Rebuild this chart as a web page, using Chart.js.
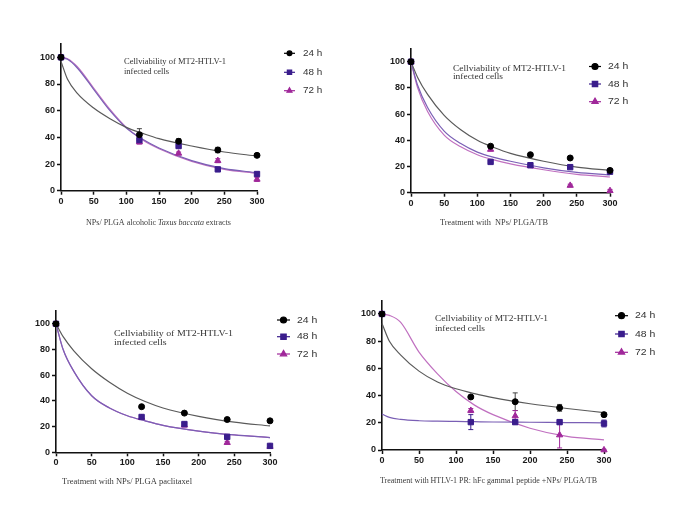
<!DOCTYPE html>
<html><head><meta charset="utf-8">
<script src="https://cdn.jsdelivr.net/npm/chart.js@4.4.1/dist/chart.umd.min.js"></script>
<style>
html,body{margin:0;padding:0;background:#fff;width:685px;height:509px;overflow:hidden;}
canvas{position:absolute;}
</style></head><body>
<canvas id="c1" width="342" height="254" style="left:0;top:0"></canvas>
<canvas id="c2" width="343" height="254" style="left:342px;top:0"></canvas>
<canvas id="c3" width="342" height="255" style="left:0;top:254px"></canvas>
<canvas id="c4" width="343" height="255" style="left:342px;top:254px"></canvas>
<script>
// ---------------- DATA ----------------
const X_TICK_VALUES = [0, 50, 100, 150, 200, 250, 300];
const X_TICK_LABELS = ['0', '50', '100', '150', '200', '250', '300'];
const Y_TICK_VALUES = [0, 20, 40, 60, 80, 100];
const Y_TICK_LABELS = ['0', '20', '40', '60', '80', '100'];
const SERIES_NAMES = ['24 h', '48 h', '72 h'];
const DOSES = [0, 120, 180, 240, 300];
const FIT_X = [0, 10, 25, 50, 75, 100, 125, 150, 200, 250, 300];
const PANEL_TITLE = ['Cellviability of MT2-HTLV-1', 'infected cells'];

// Panel A: NPs/ PLGA alcoholic Taxus baccata extracts
const A_24 = [100, 42, 37, 30.5, 26.5];
const A_48 = [100, 38, 33.5, 16, 12.5];
const A_72 = [100, 36.5, 28, 22.5, 8.5];
const A_24_ERR = [0, 4.5, 2, 2, 1];
const A_48_ERR = [0, 2.5, 1.5, 1, 1.5];
const A_72_ERR = [0, 1.5, 1, 1.5, 1.5];
const A_FIT_24 = [97, 83.5, 73, 62, 54, 47.5, 43, 39, 33.5, 29, 26];
const A_FIT_48 = [100, 98.5, 92, 76, 60, 47, 38.5, 32, 22.5, 16.5, 13.5];
const A_FIT_72 = [100, 99, 93, 77, 61, 47.5, 38, 31.5, 22, 16, 13];
const A_XTITLE = [['NPs/ PLGA alcoholic ', false], ['Taxus baccata', true], [' extracts', false]];

// Panel B: Treatment with NPs/ PLGA/TB
const B_24 = [100, 35.5, 29, 26.5, 17];
const B_48 = [100, 23.5, 21, 19.5, 16];
const B_72 = [100, 33, 20.5, 5.5, 1.5];
const B_24_ERR = [0, 1, 1, 1, 1];
const B_48_ERR = [0, 1, 1, 1, 1];
const B_72_ERR = [0, 1, 1, 1, 1];
const B_FIT_24 = [100, 88, 75, 59, 48, 40, 34.5, 30, 24, 19.5, 17];
const B_FIT_48 = [100, 82, 65, 47, 37.5, 31, 27, 24, 19, 15.5, 13.5];
const B_FIT_72 = [100, 80, 62, 44, 35, 29, 25, 22, 17.5, 14, 12];
const B_XTITLE = [['Treatment with  NPs/ PLGA/TB', false]];

// Panel C: Treatment with NPs/ PLGA paclitaxel
const C_24 = [100, 35.5, 30.5, 25.5, 24.5];
const C_48 = [100, 27.5, 22, 12, 5];
const C_72 = [100, 27, 21, 7.5, 4.5];
const C_24_ERR = [0, 1, 1, 1, 1];
const C_48_ERR = [0, 1, 1, 1, 1];
const C_72_ERR = [0, 1, 1, 1, 1];
const C_FIT_24 = [100, 90, 79, 65, 54.5, 46, 39.5, 34.5, 28, 23.5, 20.5];
const C_FIT_48 = [100, 80, 63, 44, 34.5, 28.5, 24.5, 21, 16.5, 13.5, 11.5];
const C_FIT_72 = [100, 80, 63, 44, 34.5, 28.5, 24.5, 21, 16.5, 13.5, 11.5];
const C_XTITLE = [['Treatment with NPs/ PLGA paclitaxel', false]];

// Panel D: Treatment with HTLV-1 PR: hFc gamma1 peptide +NPs/ PLGA/TB
const D_24 = [100, 39, 35.5, 31, 26];
const D_48 = [100, 20.5, 20.5, 20.5, 19.5];
const D_72 = [100, 29, 25, 11, 0];
const D_24_ERR = [0, 1, 6.5, 2.5, 1.5];
const D_48_ERR = [0, 5.5, 1.5, 1.5, 2.5];
const D_72_ERR = [0, 1.5, 4, 9.5, 0.5];
const D_FIT_24 = [93, 80, 70, 58, 50, 45, 41.5, 38.5, 34, 30.5, 27.5];
const D_FIT_48 = [26.5, 24, 22.5, 21.5, 21.2, 21, 20.8, 20.6, 20.4, 20.2, 20];
const D_FIT_72 = [100, 99, 94, 72, 56, 43, 33, 26, 16, 10, 7.5];
const D_XTITLE = [['Treatment with HTLV-1 PR: hFc gamma1 peptide +NPs/ PLGA/TB', false]];

// ---------------- STYLE ----------------
const MARK_COLORS = ['#000000', '#3a1d8c', '#a0289a'];
const LINE_COLORS = ['#5a5a5a', '#7a5fb5', '#c070c0'];
const MARK_STYLES = ['circle', 'rect', 'triangle'];
const MARK_RADII = [3.0, 3.8, 3.6];
const SANS = '"Liberation Sans", Arial, sans-serif';
const SERIF = '"Liberation Serif", "Times New Roman", serif';

const Y_AXIS_W = 30, X_AXIS_H = 20;

function xy(xs, ys) { return xs.map((x, i) => ({x: x, y: ys[i]})); }

const errorBars = {
  id: 'errorBars',
  beforeDatasetsDraw(chart) {
    const ctx = chart.ctx, ys = chart.scales.y, xs = chart.scales.x;
    chart.data.datasets.forEach(ds => {
      if (!ds.errors) return;
      ctx.save();
      ctx.strokeStyle = ds.errColor; ctx.lineWidth = 1;
      ds.data.forEach((p, i) => {
        const e = ds.errors[i];
        if (!e) return;
        const px = xs.getPixelForValue(p.x);
        const y1 = ys.getPixelForValue(p.y + e), y2 = ys.getPixelForValue(p.y - e);
        ctx.beginPath();
        ctx.moveTo(px, y1); ctx.lineTo(px, y2);
        ctx.moveTo(px - 2.5, y1); ctx.lineTo(px + 2.5, y1);
        ctx.moveTo(px - 2.5, y2); ctx.lineTo(px + 2.5, y2);
        ctx.stroke();
      });
      ctx.restore();
    });
  }
};

function segsWidth(ctx, segs, family, size) {
  let w = 0;
  segs.forEach(s => { ctx.font = (s[1] ? 'italic ' : '') + size + 'px ' + family; w += ctx.measureText(s[0]).width; });
  return w;
}
// draw text at a given font size, stretched horizontally to the target width
function drawSegs(ctx, segs, family, size, x, y, targetW, color) {
  const w = segsWidth(ctx, segs, family, size);
  const sx = targetW ? targetW / w : 1;
  ctx.save();
  ctx.translate(x, y); ctx.scale(sx, 1);
  ctx.fillStyle = color; ctx.textBaseline = 'middle'; ctx.textAlign = 'left';
  let cx = 0;
  segs.forEach(s => {
    ctx.font = (s[1] ? 'italic ' : '') + size + 'px ' + family;
    ctx.fillText(s[0], cx, 0);
    cx += ctx.measureText(s[0]).width;
  });
  ctx.restore();
}

const panelText = {
  id: 'panelText',
  afterDraw(chart, args, o) {
    const ctx = chart.ctx;
    const ox = o.ox, oy = o.oy;
    ctx.save();
    const t0 = [[PANEL_TITLE[0], false]], t1 = [[PANEL_TITLE[1], false]];
    const tw = segsWidth(ctx, t0, SERIF, o.titleSize);
    const tsx = o.titleW / tw;
    drawSegs(ctx, t0, SERIF, o.titleSize, o.titleX - ox, o.titleY[0] - oy, o.titleW, '#333');
    drawSegs(ctx, t1, SERIF, o.titleSize, o.titleX - ox, o.titleY[1] - oy,
             segsWidth(ctx, t1, SERIF, o.titleSize) * tsx, '#333');
    drawSegs(ctx, o.xTitle, SERIF, 7.5, o.xTitleX - ox, o.xTitleY - oy, o.xTitleW, '#3a3a3a');
    for (let i = 0; i < 3; i++) {
      const y = o.legY[i] - oy;
      ctx.strokeStyle = MARK_COLORS[i]; ctx.lineWidth = 1.2;
      ctx.beginPath(); ctx.moveTo(o.legX1 - ox, y); ctx.lineTo(o.legX2 - ox, y); ctx.stroke();
      ctx.fillStyle = MARK_COLORS[i]; ctx.strokeStyle = MARK_COLORS[i];
      Chart.helpers.drawPoint(ctx, {pointStyle: MARK_STYLES[i], radius: MARK_RADII[i] * o.legMark, borderWidth: 1},
                              (o.legX1 + o.legX2) / 2 - ox, y);
      const nm = [[SERIES_NAMES[i], false]];
      drawSegs(ctx, nm, SANS, o.legFont, o.legTX - ox, y, segsWidth(ctx, nm, SANS, o.legFont) * 1.1, '#333');
    }
    ctx.restore();
  }
};

function makePanel(id, canvasRect, area, pts, errs, fits, text) {
  const datasets = [];
  for (let i = 0; i < 3; i++) {
    datasets.push({
      type: 'line', data: xy(FIT_X, fits[i]), borderColor: LINE_COLORS[i], borderWidth: 1.2,
      pointRadius: 0, cubicInterpolationMode: 'monotone', fill: false, clip: false, order: 5
    });
  }
  for (let i = 0; i < 3; i++) {
    datasets.push({
      type: 'scatter', data: xy(DOSES, pts[i]), showLine: false,
      pointStyle: MARK_STYLES[i], pointRadius: MARK_RADII[i],
      pointBackgroundColor: MARK_COLORS[i], pointBorderColor: MARK_COLORS[i], pointBorderWidth: 1,
      errors: errs[i], errColor: i === 0 ? '#444' : MARK_COLORS[i], clip: false, order: 1
    });
  }
  const pad = {
    left: area.L - canvasRect.x - Y_AXIS_W,
    top: area.T - canvasRect.y,
    right: canvasRect.x + canvasRect.w - area.R,
    bottom: canvasRect.y + canvasRect.h - area.B - X_AXIS_H
  };
  text.ox = canvasRect.x; text.oy = canvasRect.y;
  const tickFont = {family: SANS, size: 9, weight: 'bold'};
  new Chart(document.getElementById(id), {
    type: 'scatter',
    data: {datasets},
    plugins: [errorBars, panelText],
    options: {
      responsive: false, animation: false, events: [],
      layout: {padding: pad},
      plugins: {legend: {display: false}, tooltip: {enabled: false}, panelText: text},
      scales: {
        x: {
          type: 'linear', min: 0, max: 300,
          afterFit: s => { s.height = X_AXIS_H; },
          afterBuildTicks: s => { s.ticks = X_TICK_VALUES.map(v => ({value: v})); },
          ticks: {font: tickFont, color: '#1a1a1a', padding: 1, maxRotation: 0,
                  callback: v => X_TICK_LABELS[X_TICK_VALUES.indexOf(v)]},
          grid: {drawOnChartArea: false, drawTicks: true, tickLength: 4, tickWidth: 1.5, tickColor: '#111'},
          border: {color: '#111', width: 1.6}
        },
        y: {
          type: 'linear', min: 0, max: 110,
          afterFit: s => { s.width = Y_AXIS_W; },
          afterBuildTicks: s => { s.ticks = Y_TICK_VALUES.map(v => ({value: v})); },
          ticks: {font: tickFont, color: '#1a1a1a', padding: 2,
                  callback: v => Y_TICK_LABELS[Y_TICK_VALUES.indexOf(v)]},
          grid: {drawOnChartArea: false, drawTicks: true, tickLength: 4, tickWidth: 1.5, tickColor: '#111'},
          border: {color: '#111', width: 1.6}
        }
      }
    }
  });
}

makePanel('c1', {x: 0, y: 0, w: 342, h: 254}, {L: 61, R: 257, T: 44, B: 190.7},
  [A_24, A_48, A_72], [A_24_ERR, A_48_ERR, A_72_ERR], [A_FIT_24, A_FIT_48, A_FIT_72],
  {titleX: 124, titleY: [61.7, 71.7], titleW: 102, titleSize: 8, xTitle: A_XTITLE, xTitleX: 86, xTitleW: 145, xTitleY: 222.7,
   legX1: 284, legX2: 295, legTX: 303, legY: [53.3, 72.3, 90.7], legFont: 9, legMark: 0.8});

makePanel('c2', {x: 342, y: 0, w: 343, h: 254}, {L: 411, R: 610, T: 48.6, B: 192.7},
  [B_24, B_48, B_72], [B_24_ERR, B_48_ERR, B_72_ERR], [B_FIT_24, B_FIT_48, B_FIT_72],
  {titleX: 453, titleY: [69.2, 77.2], titleSize: 8.5, titleW: 113, xTitle: B_XTITLE, xTitleX: 440, xTitleW: 108, xTitleY: 223,
   legX1: 589, legX2: 601, legTX: 608, legY: [66.5, 84, 101.7], legFont: 9.5, legMark: 1});

makePanel('c3', {x: 0, y: 254, w: 342, h: 255}, {L: 56, R: 270, T: 311, B: 452.3},
  [C_24, C_48, C_72], [C_24_ERR, C_48_ERR, C_72_ERR], [C_FIT_24, C_FIT_48, C_FIT_72],
  {titleX: 114, titleY: [333.3, 342.3], titleSize: 8.5, titleW: 119, xTitle: C_XTITLE, xTitleX: 62, xTitleW: 130, xTitleY: 482,
   legX1: 277, legX2: 290, legTX: 297, legY: [320, 336.7, 354], legFont: 9.5, legMark: 1});

makePanel('c4', {x: 342, y: 254, w: 343, h: 255}, {L: 382, R: 604, T: 300.4, B: 450},
  [D_24, D_48, D_72], [D_24_ERR, D_48_ERR, D_72_ERR], [D_FIT_24, D_FIT_48, D_FIT_72],
  {titleX: 435, titleY: [319, 328.3], titleSize: 8.5, titleW: 113, xTitle: D_XTITLE, xTitleX: 380, xTitleW: 217, xTitleY: 481,
   legX1: 615, legX2: 628, legTX: 635, legY: [315.7, 334, 352.3], legFont: 9.5, legMark: 1});
</script>
</body></html>
